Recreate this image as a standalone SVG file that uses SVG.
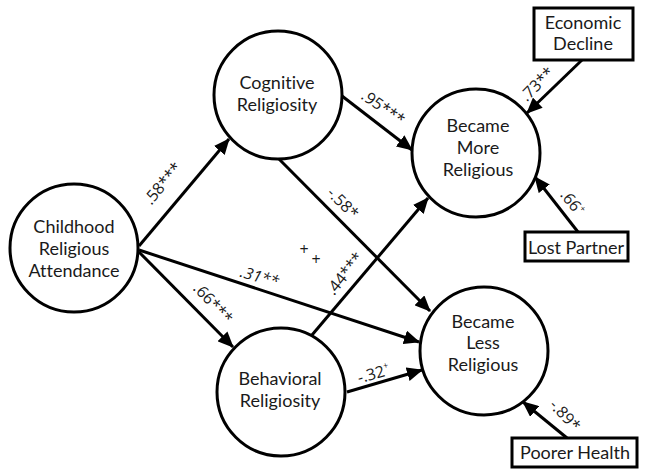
<svg xmlns="http://www.w3.org/2000/svg" width="645" height="476" viewBox="0 0 645 476">
<defs>
<marker id="ah" markerUnits="userSpaceOnUse" markerWidth="16" markerHeight="14" refX="15" refY="7" orient="auto">
<path d="M0,0 L16,7 L0,14 Z" fill="#000"/>
</marker>
<style>
.n{fill:#fff;stroke:#000;stroke-width:3}
.b{fill:#fff;stroke:#000;stroke-width:3}
.t{font-family:Lato,"Open Sans","Liberation Sans",sans-serif;font-size:18px;fill:#1a1a1a;text-anchor:middle;font-variant-ligatures:none}
.l{font-family:"Open Sans",Lato,"Liberation Sans",sans-serif;font-size:16px;fill:#1a1a1a;text-anchor:middle}
.e{fill:none;stroke:#000;stroke-width:3;marker-end:url(#ah)}
</style>
</defs>
<rect width="645" height="476" fill="#fff"/>
<g id="connectors">
<line class="e" x1="139" y1="246" x2="229" y2="139"/>
<line class="e" x1="139" y1="252" x2="233" y2="347"/>
<line class="e" x1="139" y1="250" x2="419" y2="342"/>
<line class="e" x1="342" y1="96" x2="412" y2="150"/>
<line class="e" x1="277" y1="157" x2="430" y2="311"/>
<line class="e" x1="312" y1="335" x2="428" y2="198"/>
<line class="e" x1="347" y1="392" x2="422" y2="370"/>
<line class="e" x1="582" y1="60" x2="527" y2="113"/>
<line class="e" x1="578" y1="232" x2="535" y2="177"/>
<line class="e" x1="567" y1="438" x2="523" y2="402"/>
<text class="l" transform="translate(167,187) rotate(-50)">.58***</text>
<text class="l" transform="translate(209,307) rotate(47)">.66***</text>
<text class="l" font-style="italic" transform="translate(258,282) rotate(16)">.31**</text>
<text class="l" transform="translate(380,112) rotate(35)">.95***</text>
<text class="l" transform="translate(339,207) rotate(45)">-.58*</text>
<text class="l" transform="translate(349,277) rotate(-52)">.44***</text>
<text class="l" transform="translate(375,379) rotate(-16)">-.32<tspan font-size="9" dy="-7">+</tspan></text>
<text class="l" transform="translate(541,88) rotate(-45)">.73**</text>
<text class="l" transform="translate(568,206) rotate(52)">.66<tspan font-size="9" dy="-7">+</tspan></text>
<text class="l" transform="translate(561,419) rotate(47)">-.89*</text>
<text class="l" font-size="8" x="304" y="255">+</text>
<text class="l" font-size="8" x="316" y="265">+</text>
</g>
<g id="childhood">
<circle class="n" cx="74" cy="248" r="64"/>
<text class="t" x="74" y="233">Childhood</text>
<text class="t" x="74" y="255">Religious</text>
<text class="t" x="74" y="277">Attendance</text>
</g>
<g id="cognitive">
<circle class="n" cx="278" cy="95" r="64"/>
<text class="t" x="277" y="89">Cognitive</text>
<text class="t" x="277" y="111">Religiosity</text>
</g>
<g id="behavioral">
<circle class="n" cx="281" cy="392" r="64"/>
<text class="t" x="280" y="385">Behavioral</text>
<text class="t" x="280" y="407">Religiosity</text>
</g>
<g id="more">
<circle class="n" cx="476" cy="153" r="64"/>
<text class="t" x="478" y="132">Became</text>
<text class="t" x="478" y="154">More</text>
<text class="t" x="478" y="176">Religious</text>
</g>
<g id="less">
<circle class="n" cx="484" cy="351" r="64"/>
<text class="t" x="483" y="328">Became</text>
<text class="t" x="483" y="349">Less</text>
<text class="t" x="483" y="371">Religious</text>
</g>
<g id="economic">
<rect class="b" x="534" y="8" width="99" height="52"/>
<text class="t" x="583" y="29">Economic</text>
<text class="t" x="583" y="50">Decline</text>
</g>
<g id="lost">
<rect class="b" x="525" y="232" width="103" height="29"/>
<text class="t" x="576" y="254">Lost Partner</text>
</g>
<g id="poorer">
<rect class="b" x="512" y="438" width="125" height="29"/>
<text class="t" x="575" y="459">Poorer Health</text>
</g>
</svg>
